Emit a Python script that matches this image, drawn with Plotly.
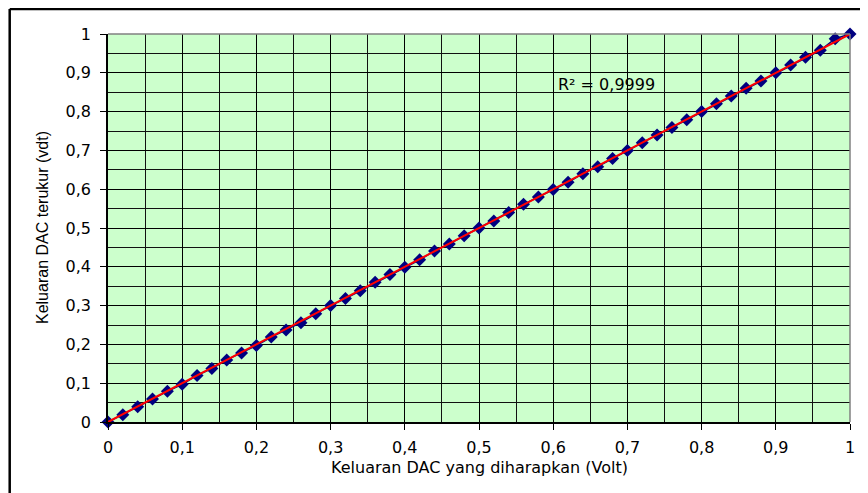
import plotly.graph_objects as go

x_vals = [round(i * 0.02, 2) for i in range(51)]
y_vals = [0, 0.019, 0.039, 0.059, 0.079, 0.097, 0.12, 0.138, 0.16, 0.178,
          0.197, 0.219, 0.237, 0.256, 0.279, 0.3, 0.318, 0.338, 0.36, 0.38,
          0.399, 0.418, 0.441, 0.459, 0.48, 0.5, 0.518, 0.54, 0.561, 0.58,
          0.599, 0.618, 0.64, 0.658, 0.679, 0.7, 0.72, 0.74, 0.759, 0.779,
          0.8, 0.82, 0.84, 0.86, 0.879, 0.9, 0.92, 0.94, 0.958, 0.988, 1.0]
trend_x = [0, 1]
trend_y = [0, 1]
x_title = "Keluaran DAC yang diharapkan (Volt)"
y_title = "Keluaran DAC terukur (vdt)"
r2_text = "R² = 0,9999"

fig = go.Figure()
fig.add_trace(go.Scatter(x=x_vals, y=y_vals, mode="lines+markers",
                         line=dict(color="#000080", width=1.5),
                         marker=dict(symbol="diamond", size=10, color="#000080"),
                         showlegend=False, cliponaxis=False))
fig.add_trace(go.Scatter(x=trend_x, y=trend_y, mode="lines",
                         line=dict(color="#FF0000", width=2),
                         showlegend=False, cliponaxis=False))

tick_font = dict(family="DejaVu Sans, sans-serif", size=16, color="black")
axis_common = dict(range=[0, 1], dtick=0.1, tick0=0, showgrid=True,
                   gridcolor="black", gridwidth=1,
                   minor=dict(dtick=0.05, showgrid=True, gridcolor="#111111", gridwidth=1, ticks=""),
                   ticks="outside", ticklen=6, tickcolor="black", tickwidth=1,
                   showline=True, linecolor="black", linewidth=1.5,
                   zeroline=False, tickfont=tick_font)

fig.update_xaxes(**axis_common, ticklabelstandoff=4)
fig.update_yaxes(**axis_common, ticklabelstandoff=6)

fig.add_annotation(x=0.604, y=0.871, xref="x", yref="y", text=r2_text,
                   showarrow=False, xanchor="left", yanchor="middle",
                   font=dict(family="DejaVu Sans, sans-serif", size=16, color="black"))

# axis titles as text placed relative to the plot area
fig.add_annotation(x=0.5, y=0, xref="paper", yref="paper", text=x_title,
                   showarrow=False, xanchor="center", yanchor="middle", yshift=-45,
                   font=dict(family="DejaVu Sans, sans-serif", size=16, color="black"))
fig.add_annotation(x=0, y=0.5, xref="paper", yref="paper", text=y_title,
                   showarrow=False, xanchor="center", yanchor="middle", xshift=-66,
                   textangle=-90,
                   font=dict(family="Liberation Sans, Arial, sans-serif", size=16, color="black"))

# plot area frame (top/right gray)
fig.add_shape(type="line", xref="paper", yref="paper", x0=0, y0=1, x1=1, y1=1,
              line=dict(color="#808080", width=1.5), layer="above")
fig.add_shape(type="line", xref="paper", yref="paper", x0=1, y0=0, x1=1, y1=1,
              line=dict(color="#808080", width=1.5), layer="above")

# outer chart border (top and left visible)
fig.add_shape(type="line", xref="paper", yref="paper",
              x0=-98.3 / 742, y0=1 + 25 / 388, x1=1.2, y1=1 + 25 / 388,
              line=dict(color="black", width=2.5), layer="above")
fig.add_shape(type="line", xref="paper", yref="paper",
              x0=-98.3 / 742, y0=1 + 25 / 388, x1=-98.3 / 742, y1=-0.3,
              line=dict(color="black", width=2.5), layer="above")

fig.update_layout(width=860, height=485,
                  margin=dict(l=100, r=18, t=26, b=71),
                  paper_bgcolor="white", plot_bgcolor="#CCFFCC",
                  separators=", ",
                  font=dict(family="DejaVu Sans, sans-serif", size=16, color="black"))

fig.write_html("out.html")
